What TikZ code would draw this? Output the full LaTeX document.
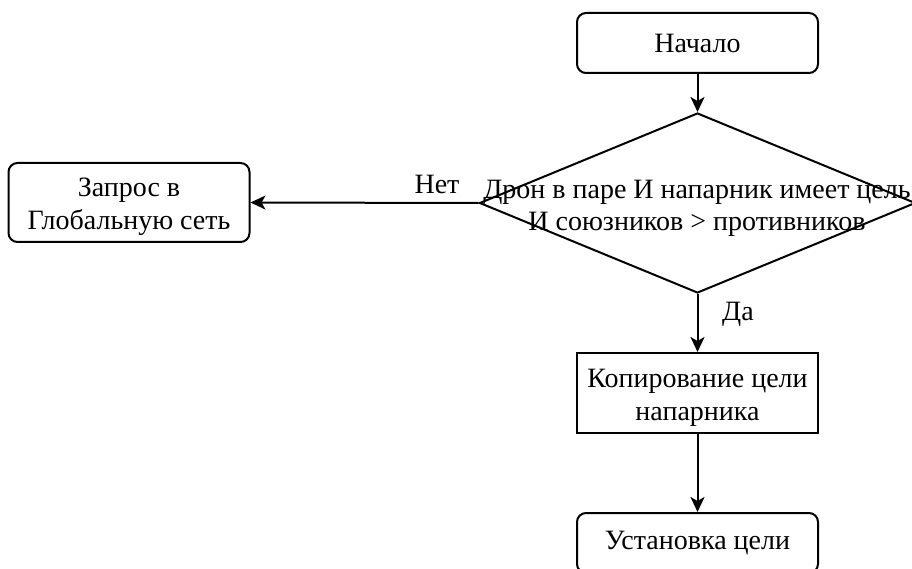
\documentclass[tikz,border=0pt]{standalone}
\usepackage{fontspec}
\setmainfont{Liberation Serif}
\usetikzlibrary{shapes.geometric,arrows.meta}
% taller first line, so that two-line texts sit a little lower in their boxes
\newcommand{\firstline}{\rule{0pt}{28pt}}
\tikzset{
  x=1pt, y=-1pt,
  base/.style={draw=black, line width=2pt, align=center, inner sep=2pt,
    font=\fontsize{28}{33}\selectfont, text=black},
  terminal/.style={base, rounded corners=9pt, minimum width=241pt},
  procbox/.style={base, minimum width=241pt, minimum height=80pt},
  decision/.style={draw=black, line width=2pt, diamond, inner sep=0pt,
    minimum width=436pt, minimum height=180pt},
  flow/.style={line width=2pt, -{Stealth[length=15pt,width=14pt,inset=4pt]}},
  lbl/.style={font=\fontsize{28}{32}\selectfont, text=black, inner sep=0pt}
}
\begin{document}
\begin{tikzpicture}
\useasboundingbox (0,0) rectangle (912,569);
\clip (0,0) rectangle (912,569);

% flowchart blocks
\node[terminal, minimum height=60pt] (start) at (697.5,43) {Начало};
\node[decision] (dec) at (697.5,203) {};
\node[lbl, align=center] (dectext) at (697,208) {Дрон в паре И напарник имеет цель\\И союзников > противников};
\node[terminal, minimum height=79pt] (query) at (129,202.5) {\firstline Запрос в\\Глобальную сеть};
\node[procbox] (copy) at (697.5,393) {\firstline Копирование цели\\напарника};
\node[terminal, minimum height=60pt] (set) at (697.5,543) {Установка цели};

% connectors
\draw[flow] (start) -- (dec.north);
\draw[flow] (dec.west) -- (query.east);
\draw[flow] (dec.south) -- (copy.north);
\draw[flow] (copy) -- (set);

% branch labels
\node[lbl] (no) at (437,184) {Нет};
\node[lbl] (yes) at (738,314) {Да};
\end{tikzpicture}
\end{document}
